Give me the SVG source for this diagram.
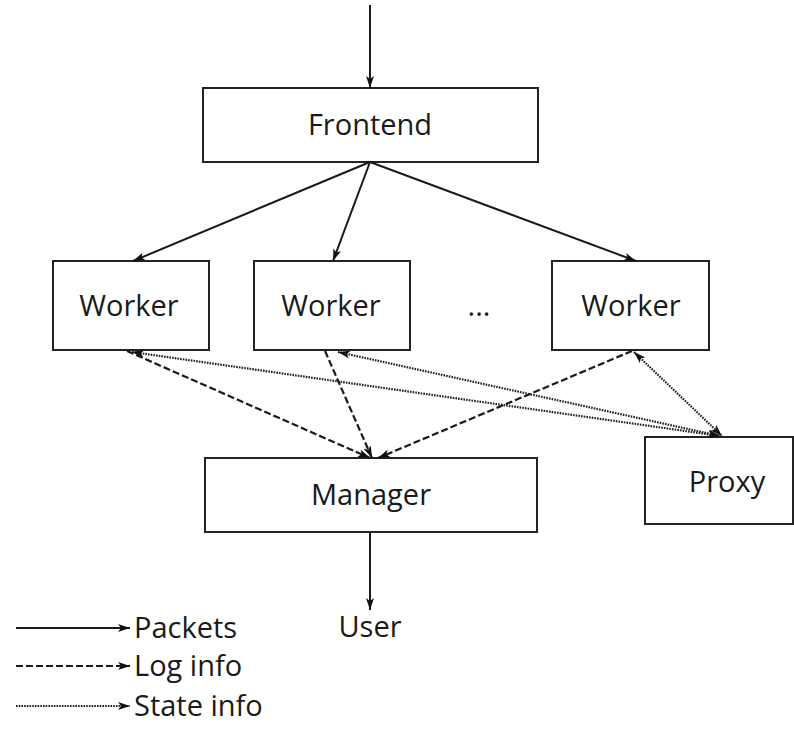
<svg xmlns="http://www.w3.org/2000/svg" width="794" height="735" viewBox="0 0 794 735">
  <style>
    .box { fill: #ffffff; stroke: #222; stroke-width: 2; }
    .lbl { font-family: "Open Sans", "Liberation Sans", sans-serif; font-size: 29px; fill: #1a1a1a; }
    .mid { text-anchor: middle; }
    .pkt { fill: none; stroke: #1a1a1a; stroke-width: 2; }
    .log { fill: none; stroke: #1a1a1a; stroke-width: 2.2; stroke-dasharray: 7 3; }
    .state { fill: none; stroke: #222; stroke-width: 2.2; stroke-dasharray: 1.6 1.1; }
  </style>
  <defs>
    <marker id="head" viewBox="0 0 12 8" refX="12" refY="4" markerWidth="12" markerHeight="8" markerUnits="userSpaceOnUse" orient="auto-start-reverse">
      <path d="M0,0 L12,4 L0,8 L3,4 Z" fill="#111"/>
    </marker>
  </defs>

  <rect width="794" height="735" fill="#ffffff"/>

  <g id="frontend">
    <rect class="box" x="203" y="88" width="335" height="74"/>
    <text class="lbl mid" x="370" y="135">Frontend</text>
  </g>
  <g id="worker1">
    <rect class="box" x="53" y="261" width="156" height="89"/>
    <text class="lbl mid" x="129" y="316">Worker</text>
  </g>
  <g id="worker2">
    <rect class="box" x="254" y="261" width="156" height="89"/>
    <text class="lbl mid" x="331" y="316">Worker</text>
  </g>
  <g id="ellipsis">
    <text class="lbl mid" x="479" y="316">...</text>
  </g>
  <g id="worker3">
    <rect class="box" x="552" y="261" width="157" height="89"/>
    <text class="lbl mid" x="631" y="316">Worker</text>
  </g>
  <g id="manager">
    <rect class="box" x="205" y="458" width="332" height="74"/>
    <text class="lbl mid" x="371" y="505">Manager</text>
  </g>
  <g id="proxy">
    <rect class="box" x="645" y="437" width="148" height="87"/>
    <text class="lbl mid" x="727" y="492">Proxy</text>
  </g>
  <g id="user">
    <text class="lbl mid" x="370" y="637">User</text>
  </g>

  <g id="connectors">
    <!-- packets -->
    <line class="pkt" x1="370" y1="5" x2="370" y2="88" marker-end="url(#head)"/>
    <line class="pkt" x1="370" y1="162" x2="133" y2="261" marker-end="url(#head)"/>
    <line class="pkt" x1="370" y1="162" x2="333" y2="261" marker-end="url(#head)"/>
    <line class="pkt" x1="370" y1="162" x2="636" y2="261" marker-end="url(#head)"/>
    <line class="pkt" x1="370" y1="532" x2="370" y2="610" marker-end="url(#head)"/>
    <!-- log info -->
    <line class="log" x1="127" y1="351" x2="370" y2="458" marker-end="url(#head)"/>
    <line class="log" x1="325" y1="351" x2="372" y2="458" marker-end="url(#head)"/>
    <line class="log" x1="632" y1="351" x2="378" y2="458" marker-end="url(#head)"/>
    <!-- state info -->
    <line class="state" x1="132" y1="352" x2="720" y2="436" marker-start="url(#head)" marker-end="url(#head)"/>
    <line class="state" x1="338" y1="352" x2="720" y2="436" marker-start="url(#head)" marker-end="url(#head)"/>
    <line class="state" x1="634" y1="352" x2="722" y2="436" marker-start="url(#head)" marker-end="url(#head)"/>
  </g>

  <g id="legend">
    <line class="pkt" x1="16" y1="628" x2="130" y2="628" marker-end="url(#head)"/>
    <text class="lbl" x="134" y="638">Packets</text>
    <line class="log" x1="16" y1="666" x2="130" y2="666" marker-end="url(#head)"/>
    <text class="lbl" x="134" y="676">Log info</text>
    <line class="state" x1="16" y1="706" x2="130" y2="706" marker-end="url(#head)"/>
    <text class="lbl" x="134" y="716">State info</text>
  </g>
</svg>
